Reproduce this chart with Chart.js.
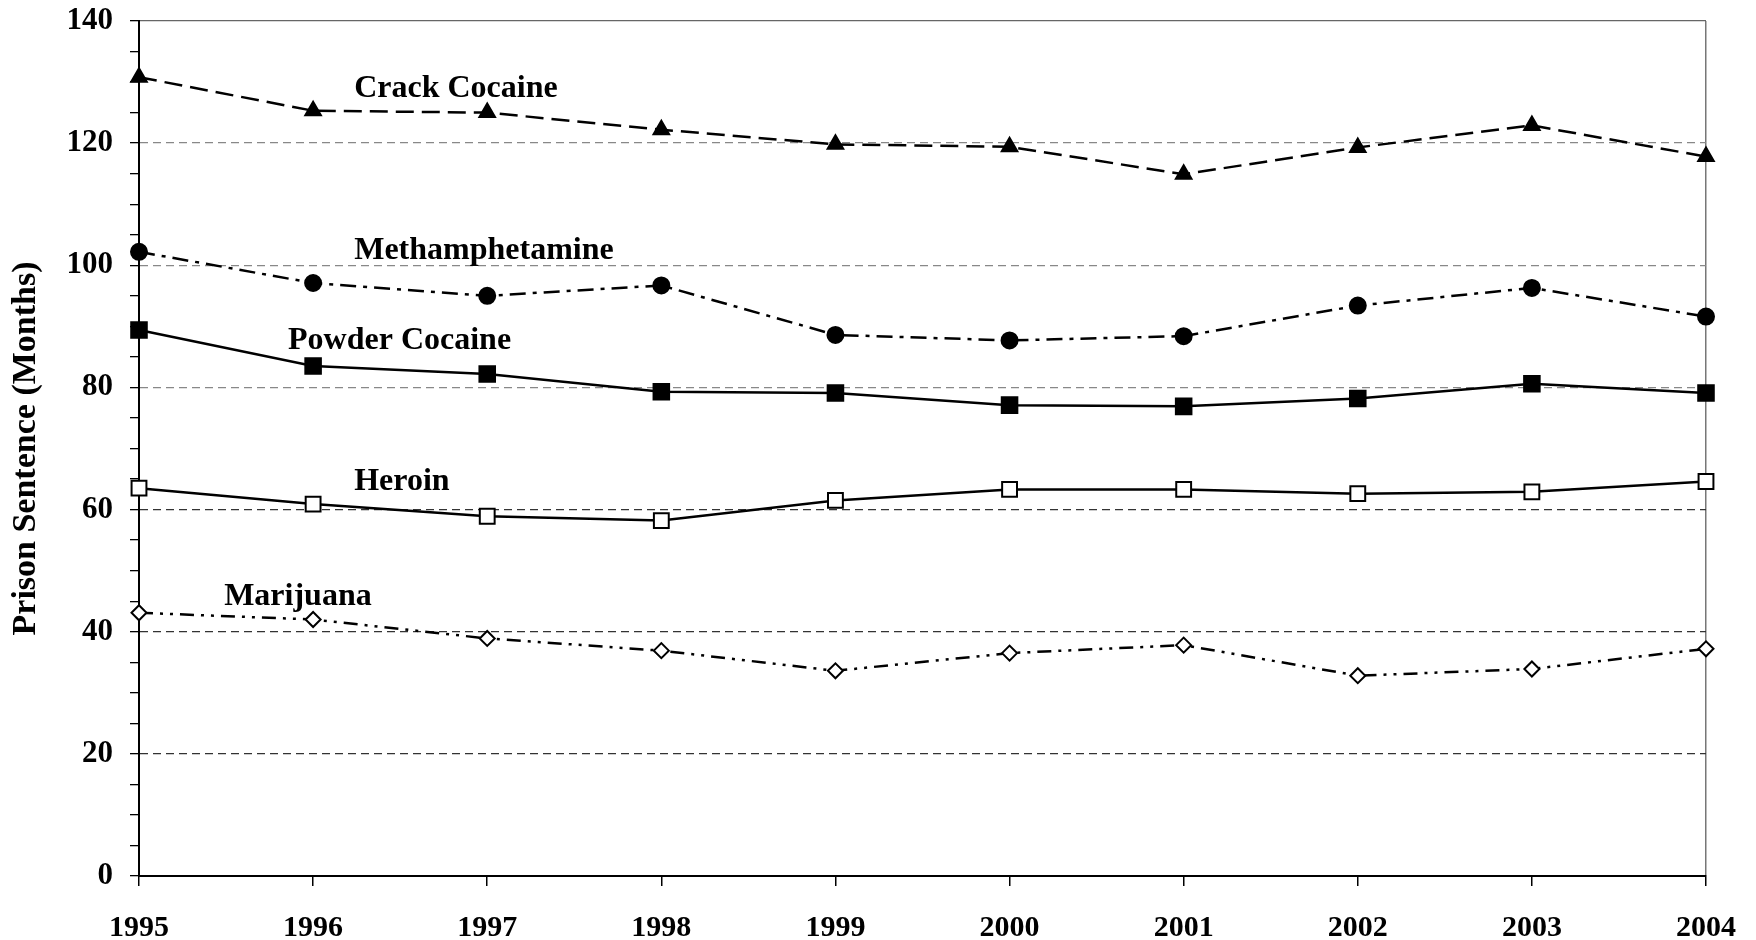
<!DOCTYPE html>
<html>
<head>
<meta charset="utf-8">
<script src="https://cdn.jsdelivr.net/npm/chart.js@4"></script>
<style>
  html, body { margin: 0; padding: 0; background: #fff; }
  #wrap { width: 1756px; height: 940px; }
</style>
</head>
<body>
<div id="wrap"><canvas id="chart"></canvas></div>
<script>
// years on the x axis
const years = ['1995', '1996', '1997', '1998', '1999', '2000', '2001', '2002', '2003', '2004'];

// average prison sentence in months
const crackCocaine   = [130.8, 125.3, 125.0, 122.2, 119.8, 119.4, 114.9, 119.3, 122.9, 117.8];
const methamphetamine = [102.2, 97.1, 95.0, 96.7, 88.6, 87.7, 88.4, 93.4, 96.3, 91.6];
const powderCocaine  = [89.4, 83.5, 82.2, 79.3, 79.1, 77.1, 76.9, 78.2, 80.6, 79.1];
const heroin         = [63.5, 60.9, 58.9, 58.2, 61.5, 63.3, 63.3, 62.6, 62.9, 64.6];
const marijuana      = [43.1, 42.0, 38.9, 36.9, 33.6, 36.5, 37.8, 32.8, 33.9, 37.2];

const seriesNames = ['Crack Cocaine', 'Methamphetamine', 'Powder Cocaine', 'Heroin', 'Marijuana'];

const FONT = "'Liberation Serif', 'Times New Roman', serif";

// labels next to the lines, placed in data space (x = year index, y = months)
const lineLabels = [
  { text: seriesNames[0], x: 1.236, y: 128.9 },
  { text: seriesNames[1], x: 1.236, y: 102.4 },
  { text: seriesNames[2], x: 0.856, y: 87.7 },
  { text: seriesNames[3], x: 1.236, y: 64.6 },
  { text: seriesNames[4], x: 0.489, y: 45.7 }
];

const labelPlugin = {
  id: 'lineLabels',
  afterDatasetsDraw(chart) {
    const { ctx, scales: { x, y } } = chart;
    ctx.save();
    ctx.font = 'bold 32px ' + FONT;
    ctx.fillStyle = '#000';
    ctx.textAlign = 'left';
    ctx.textBaseline = 'middle';
    lineLabels.forEach(l => {
      ctx.fillText(l.text, x.getPixelForValue(l.x), y.getPixelForValue(l.y));
    });
    ctx.restore();
  }
};

function line(label, data, dash, style, fill, radius) {
  return {
    label: label,
    data: data,
    borderColor: '#000',
    borderWidth: 2.5,
    borderDash: dash,
    pointStyle: style,
    pointRadius: radius,
    pointHoverRadius: radius,
    pointBackgroundColor: fill,
    pointBorderColor: '#000',
    pointBorderWidth: 2,
    tension: 0,
    fill: false
  };
}

new Chart(document.getElementById('chart'), {
  type: 'line',
  data: {
    labels: years,
    datasets: [
      line(seriesNames[0], crackCocaine, [18, 8], 'triangle', '#000', 9),
      line(seriesNames[1], methamphetamine, [16, 7, 4, 7], 'circle', '#000', 8),
      line(seriesNames[2], powderCocaine, [], 'rect', '#000', 11),
      line(seriesNames[3], heroin, [], 'rect', '#fff', 10.5),
      line(seriesNames[4], marijuana, [14, 7, 3, 7, 3, 7], 'rectRot', '#fff', 7.5)
    ]
  },
  options: {
    responsive: true,
    maintainAspectRatio: false,
    animation: false,
    layout: { padding: { top: 21, right: 50, left: 0, bottom: 0 } },
    plugins: {
      legend: { display: false },
      tooltip: { enabled: false }
    },
    scales: {
      x: {
        offset: false,
        afterFit: s => { s.height = 64; s.paddingLeft = 0; s.paddingRight = 0; },
        grid: {
          drawOnChartArea: true,
          color: c => c.index === years.length - 1 ? '#777' : 'rgba(0,0,0,0)',
          tickColor: '#000',
          tickLength: 10,
          lineWidth: 1.5
        },
        border: { display: true, color: '#000', width: 2 },
        ticks: {
          color: '#000',
          font: { family: FONT, size: 30, weight: 'bold' },
          padding: 24,
          maxRotation: 0,
          autoSkip: false
        }
      },
      y: {
        min: 0,
        max: 140,
        afterFit: s => { s.width = 139; s.paddingTop = 0; s.paddingBottom = 0; },
        grid: {
          color: c => {
            const v = c.tick.value;
            if (v === 0 || v % 20 !== 0) return 'rgba(0,0,0,0)';
            if (v === 140) return '#666';
            return v <= 60 ? '#333' : '#888';
          },
          lineWidth: 1.3,
          tickColor: '#000',
          tickLength: 9
        },
        border: {
          display: true,
          color: '#000',
          width: 2,
          dash: c => (c.tick && c.tick.value !== 140) ? [8, 5] : []
        },
        ticks: {
          stepSize: 5,
          autoSkip: false,
          color: '#000',
          padding: 17,
          font: { family: FONT, size: 31, weight: 'bold' },
          callback: v => (v % 20 === 0 ? v : '')
        },
        title: {
          display: true,
          text: 'Prison Sentence (Months)',
          color: '#000',
          font: { family: FONT, size: 34, weight: 'bold' },
          padding: { top: 6, bottom: 0 }
        }
      }
    }
  },
  plugins: [labelPlugin]
});
</script>
</body>
</html>
